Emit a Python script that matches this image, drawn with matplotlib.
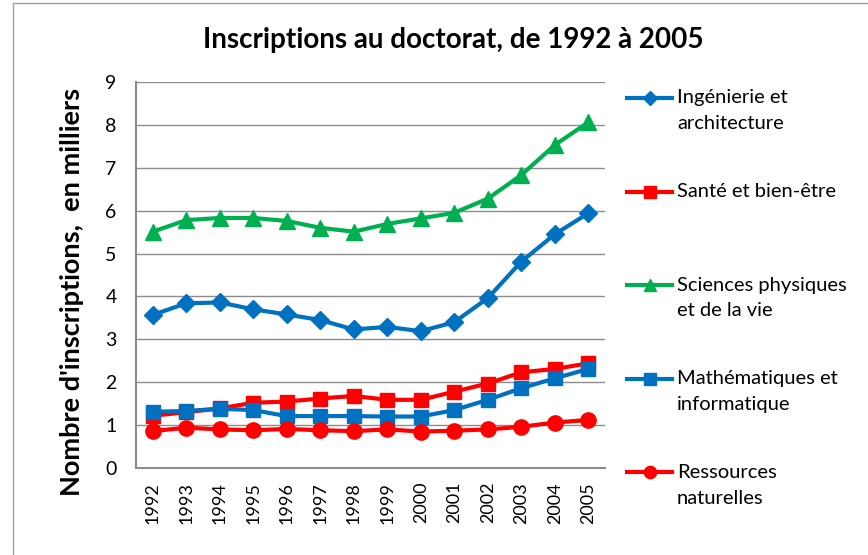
import matplotlib.pyplot as plt
from matplotlib.lines import Line2D
from matplotlib.patches import Rectangle

years = list(range(1992, 2006))
ingenierie = [3.57, 3.84, 3.86, 3.70, 3.58, 3.45, 3.23, 3.29, 3.19, 3.40, 3.96, 4.81, 5.45, 5.94]
sante = [1.22, 1.30, 1.39, 1.52, 1.55, 1.62, 1.68, 1.59, 1.59, 1.78, 1.97, 2.23, 2.31, 2.44]
sciences = [5.51, 5.78, 5.83, 5.83, 5.76, 5.60, 5.51, 5.69, 5.82, 5.95, 6.28, 6.83, 7.53, 8.06]
maths = [1.31, 1.33, 1.38, 1.35, 1.21, 1.21, 1.21, 1.20, 1.20, 1.35, 1.59, 1.86, 2.09, 2.31]
ressources = [0.86, 0.94, 0.90, 0.88, 0.91, 0.88, 0.86, 0.90, 0.85, 0.87, 0.90, 0.96, 1.06, 1.12]

labels = ["Ingénierie et\narchitecture", "Santé et bien-être",
          "Sciences physiques\net de la vie", "Mathématiques et\ninformatique",
          "Ressources\nnaturelles"]

BLUE = "#0070C0"
RED = "#FF0000"
GREEN = "#00B050"
series = [
    (ingenierie, BLUE, "D", 9),
    (sante, RED, "s", 10),
    (sciences, GREEN, "^", 11),
    (maths, BLUE, "s", 10),
    (ressources, RED, "o", 11),
]

plt.rcParams['font.family'] = ['Lato', 'DejaVu Sans']

W, H = 868, 555
fig = plt.figure(figsize=(W / 100, H / 100), dpi=100)
fig.patches.append(Rectangle((13 / W, -0.1), 1.2, 1 - 3 / H + 0.1, transform=fig.transFigure,
                             fill=False, edgecolor="#a0a0a0", lw=1))

ax = fig.add_axes([136 / W, 87 / H, (605 - 136) / W, (468 - 82) / H])
x = list(range(len(years)))
for vals, col, mk, ms in series:
    ax.plot(x, vals, color=col, lw=3, marker=mk, markersize=ms, markeredgecolor=col,
            solid_capstyle="round", zorder=3)

ax.set_xlim(-0.5, len(years) - 0.5)
ax.set_ylim(0, 9)
ax.set_yticks(range(10))
ax.set_xticks(x)
ax.set_xticklabels([str(y) for y in years], rotation=90, fontsize=13)
ax.tick_params(axis="y", length=0, pad=14, labelsize=14)
ax.tick_params(axis="x", length=0, pad=10)
ax.grid(axis="y", color="#8c8c8c", lw=1)
ax.set_axisbelow(True)
for s in ["top", "right"]:
    ax.spines[s].set_visible(False)
for s in ["left", "bottom"]:
    ax.spines[s].set_color("#8c8c8c")
    ax.spines[s].set_linewidth(1.5)

fig.text(453 / W, 1 - 40 / H, "Inscriptions au doctorat, de 1992 à 2005",
         ha="center", va="center", fontsize=20, fontweight="bold")
fig.text(72 / W, 1 - 292 / H, "Nombre d'inscriptions,  en milliers", rotation=90,
         ha="center", va="center", fontsize=19.5, fontweight="bold")

# legend drawn by hand so the marker sits on the first text line
for i, ((vals, col, mk, ms), lab) in enumerate(zip(series, labels)):
    yc = 1 - (98 + i * 93.5) / H
    fig.add_artist(Line2D([627 / W, 649.5 / W, 672 / W], [yc, yc, yc], color=col, lw=3,
                          marker=mk, markersize=ms * 0.8, markevery=[1],
                          transform=fig.transFigure))
    for j, line in enumerate(lab.split("\n")):
        fig.text(677 / W, yc - j * 26 / H, line, ha="left", va="center", fontsize=14.5)

fig.savefig("out.png", dpi=100)
